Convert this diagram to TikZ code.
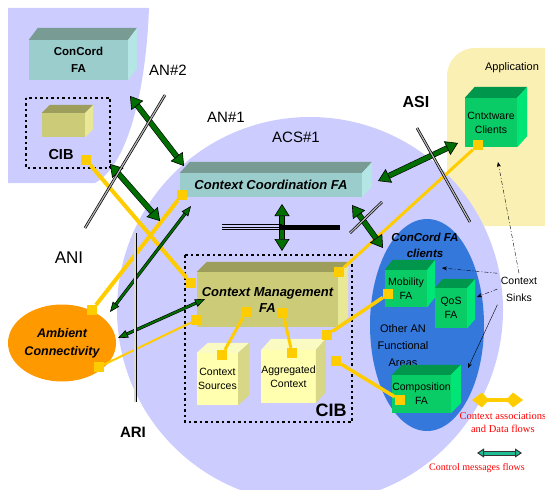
\documentclass[tikz,border=0pt]{standalone}
\usepackage{fontspec}
\setmainfont{Liberation Sans}
\newfontfamily\legendfont{Liberation Serif}
\usepackage{tikz}
\usetikzlibrary{arrows.meta}
\usetikzlibrary{calc}
\usetikzlibrary{positioning}
\usetikzlibrary{shapes.geometric}
\definecolor{lavbg}{RGB}{204,204,255}
\definecolor{appbg}{RGB}{250,240,180}
\definecolor{clientblue}{RGB}{52,120,220}
\definecolor{ambient}{RGB}{255,153,0}
\definecolor{dataflow}{RGB}{255,204,0}
\definecolor{ctrlgreen}{RGB}{0,110,0}
\definecolor{legteal}{RGB}{30,190,150}
\definecolor{tealfront}{RGB}{155,205,205}
\definecolor{tealtop}{RGB}{120,155,148}
\definecolor{tealside}{RGB}{180,230,230}
\definecolor{olivefront}{RGB}{204,204,120}
\definecolor{olivetop}{RGB}{158,158,92}
\definecolor{oliveside}{RGB}{232,232,150}
\definecolor{palefront}{RGB}{255,255,175}
\definecolor{paletop}{RGB}{250,250,195}
\definecolor{paleside}{RGB}{215,215,135}
\definecolor{greenfront}{RGB}{10,204,102}
\definecolor{greentop}{RGB}{0,150,75}
\definecolor{greenside}{RGB}{0,230,118}
\tikzset{basic box/.style={inner sep=0pt, align=center}}
\tikzset{fa box/.style={basic box, font=\fontsize{10.5}{14}\selectfont}}
\tikzset{main box/.style={basic box, font=\fontsize{13}{16}\selectfont\bfseries\itshape}}
\tikzset{sq/.style={fill=dataflow, minimum size=10pt, inner sep=0pt}}
\tikzset{data/.style={draw=dataflow, line width=#1}, data/.default=3pt}
\tikzset{ctrl/.style={draw=black, line width=0.6pt, double=ctrlgreen, double distance=#1}}
\tikzset{iface/.style={draw=black, line width=0.7pt, double=gray!55, double distance=1.2pt}}
\tikzset{cib frame/.style={draw, line width=2.5pt, dash pattern=on 2.5pt off 3pt}}

\begin{document}
\begin{tikzpicture}
      [
      x=1pt, y=-1pt,
      big ctrl/.style={ctrl=4.6pt,
      {Triangle[length=12pt,width=15pt,fill=ctrlgreen]}-{Triangle[length=12pt,width=15pt,fill=ctrlgreen]}},
      thin ctrl/.style={ctrl=2pt,
      {Triangle[length=10pt,width=8pt,fill=ctrlgreen]}-{Triangle[length=10pt,width=8pt,fill=ctrlgreen]}},
      sink/.style={-{Stealth[length=5pt,width=4pt]}, thin,
      dash pattern=on 4pt off 2pt on 1pt off 2pt},
      area label/.style={font=\fontsize{15}{18}\selectfont},
      ]
      \useasboundingbox (0,0) rectangle (545,489);
      \clip (0,0) rectangle (545,489);

      % domains
      \fill[lavbg] (8,8) -- (149,8) .. controls (146,90) and (128,165) .. (95,183)
      -- (8,183) -- cycle;
      \fill[appbg, rounded corners=28pt] (447,48) rectangle (580,226);
      \fill[lavbg] (310,310) circle [radius=193pt];
      \fill[clientblue] (427,325) ellipse [x radius=57pt, y radius=106pt];
      \node [ellipse, fill=ambient, minimum width=108pt, minimum height=77pt, inner sep=0pt,
      align=center, font=\fontsize{12.5}{18}\selectfont\bfseries\itshape]
      (amb) at (62,343) {Ambient\\Connectivity};

      % CIB frames
      \draw [cib frame] (26,98) rectangle (110,168);
      \draw [cib frame] (185,255) rectangle (352,422);

      % boxes
      \node [basic box, fill=tealfront, minimum width=99pt, minimum height=40pt,
      font=\fontsize{11.5}{17}\selectfont\bfseries] (concord) at (78.5,60) {ConCord\\FA};
      \node [basic box, fill=olivefront, minimum width=43pt, minimum height=24pt] (cibbox) at (63.5,125) {};
      \node [main box, fill=tealfront, minimum width=182pt, minimum height=24pt] (coord) at (271,185)
      {Context Coordination FA};
      \node [main box, fill=olivefront, minimum width=141pt, minimum height=55pt] (mgmt) at (267.5,299.5)
      {Context Management\\FA};
      \node [fa box, fill=palefront, minimum width=41pt, minimum height=52pt] (sources) at (217.5,379)
      {Context\\Sources};
      \node [fa box, fill=palefront, minimum width=53pt, minimum height=53pt] (aggr) at (288.5,376.5)
      {Aggregated\\Context};
      \node [fa box, fill=greenfront, minimum width=52pt, minimum height=49pt] (cc) at (491,122.5)
      {Cntxtware\\Clients};
      \node [fa box, fill=greenfront, minimum width=42pt, minimum height=37pt] (mobility) at (406,288.5)
      {Mobility\\FA};
      \node [fa box, fill=greenfront, minimum width=32pt, minimum height=40pt] (qos) at (451,308)
      {QoS\\FA};
      \node [align=center, font=\fontsize{11}{17}\selectfont] (otherfa) at (403,346)
      {Other AN\\Functional\\Areas};
      \node [fa box, fill=greenfront, minimum width=57pt, minimum height=38pt] (comp) at (421.5,394)
      {Composition\\FA};

      % box faces
      \foreach \b/\t/\s/\dx/\dy in
      {
      concord/tealtop/tealside/9/-12,
      cibbox/olivetop/oliveside/8/-8,
      coord/tealtop/tealside/10/-11,
      mgmt/olivetop/oliveside/10/-10,
      sources/paletop/paleside/11/-10,
      aggr/paletop/paleside/10/-11,
      cc/greentop/greenside/10/-11,
      mobility/greentop/greenside/8/-10,
      qos/greentop/greenside/8/-9,
      comp/greentop/greenside/10/-10
      }
      {
      \fill [\t] (\b.north west) -- (\b.north east) -- ++(\dx,\dy) -- ($(\b.north west)+(\dx,\dy)$) -- cycle;
      \fill [\s] (\b.north east) -- (\b.south east) -- ++(\dx,\dy) -- ($(\b.north east)+(\dx,\dy)$) -- cycle;
      }

      % data flow squares
      \foreach \n/\x/\y in
      {
      cibq/86/160, mgmtqa/191/283, ambqa/92/310, coordq/182/195,
      ambqb/99/367, mgmtqb/196/320, ccq/478/145, mgmtqc/339/272,
      mobq/388/294, mgmtqd/327/335, compq/400/400, aggqa/336/361,
      mgmtqe/246/312, srcq/222/355, mgmtqf/283/313, aggqb/292/353
      }
      {
      \node [sq] (\n) at (\x,\y) {};
      }

      % data flows
      \foreach \a/\b/\w in
      {
      cibq/mgmtqa/4pt, ambqa/coordq/4pt, ambqb/mgmtqb/2pt, ccq/mgmtqc/3pt,
      mobq/mgmtqd/3.5pt, compq/aggqa/3.5pt, mgmtqe/srcq/3pt, mgmtqf/aggqb/3pt
      }
      {
      \draw [data=\w] (\a) -- (\b);
      }

      % control flows
      \coordinate (cibctl) at (130,96);   \coordinate (coordctla) at (184,166);
      \coordinate (cibctlb) at (110,164); \coordinate (coordctlb) at (160,221);
      \coordinate (ambctla) at (110,312); \coordinate (coordctlc) at (191,206);
      \coordinate (ambctlb) at (118,338); \coordinate (mgmtctla) at (205,299);
      \coordinate (coordctld) at (282,204); \coordinate (mgmtctlb) at (282,251);
      \coordinate (coordctle) at (378,181); \coordinate (ccctl) at (458,143);
      \coordinate (coordctlf) at (352,205); \coordinate (clientsctl) at (383,248);

      \draw [big ctrl] (cibctl) -- (coordctla);
      \draw [big ctrl] (cibctlb) -- (coordctlb);
      \draw [thin ctrl] (ambctla) -- (coordctlc);
      \draw [thin ctrl] (ambctlb) -- (mgmtctla);
      \draw [big ctrl] (coordctld) -- (mgmtctlb);
      \draw [big ctrl] (coordctle) -- (ccctl);
      \draw [big ctrl] (coordctlf) -- (clientsctl);

      % interfaces
      \draw [iface] (165,95) -- (85,228);
      \draw [iface] (417,128) -- (470,222);
      \draw [iface] (350,233) -- (382,202);
      \draw [iface, double=gray!30, double distance=1.6pt] (135,233) -- (135,402);
      \foreach \dy in {-2.7,0,2.7}
      {
      \draw [line width=0.6pt] (222,{227+\dy}) -- (282,{227+\dy});
      }
      \fill (280,224.5) rectangle (340,229.5);

      % labels
      \node [font=\fontsize{14.5}{16}\selectfont\bfseries] (cibl) at (61,155) {CIB};
      \node [font=\fontsize{18}{20}\selectfont\bfseries] (cibm) at (331,410) {CIB};
      \node [align=center, font=\fontsize{11.5}{16}\selectfont\bfseries\itshape] (clients) at (425,245)
      {ConCord FA\\clients};
      \node [area label] (an2) at (168,70) {AN\#2};
      \node [area label] (an1) at (226,117) {AN\#1};
      \node [area label] (acs1) at (296,137) {ACS\#1};
      \node [font=\fontsize{16}{18}\selectfont\bfseries] (asi) at (416,102) {ASI};
      \node [font=\fontsize{17}{18}\selectfont] (ani) at (69,258) {ANI};
      \node [font=\fontsize{15}{18}\selectfont\bfseries] (ari) at (133,432) {ARI};
      \node [font=\fontsize{11}{13}\selectfont] (app) at (512,68) {Application};

      % context sinks
      \node [align=center, font=\fontsize{10.5}{17}\selectfont] (sinks) at (519,289) {Context\\Sinks};
      \coordinate (mobsink) at (442,268);
      \coordinate (qossink) at (477,297);
      \coordinate (compsink) at (468,368);
      \coordinate (ccsink) at (498,162);
      \draw [sink] (sinks.north west) -- (mobsink);
      \draw [sink] (sinks.west) -- (qossink);
      \draw [sink, solid] (sinks.south west) -- (compsink);
      \draw [sink] (sinks.north) -- (ccsink);

      % legend
      \coordinate (legda) at (472,400); \coordinate (legdb) at (523,400);
      \coordinate (legca) at (477,453); \coordinate (legcb) at (522,453);
      \draw [data=4pt, {Kite[length=17pt,width=15pt,inset=7pt]}-{Kite[length=17pt,width=15pt,inset=7pt]}]
      (legda) -- (legdb);
      \node [anchor=west, align=center, text=red, font=\legendfont\fontsize{10.5}{13}\selectfont]
      (legdata) at (456,423) {Context associations\\and Data flows};
      \draw [draw=black!80, line width=1pt, double=legteal, double distance=3pt,
      {Triangle[length=7pt,width=9pt,fill=legteal]}-{Triangle[length=7pt,width=9pt,fill=legteal]}] (legca) -- (legcb);
      \node [text=red, font=\legendfont\fontsize{10}{12}\selectfont] (legctrl) at (477,468)
      {Control messages flows};

    \end{tikzpicture}
\end{document}
